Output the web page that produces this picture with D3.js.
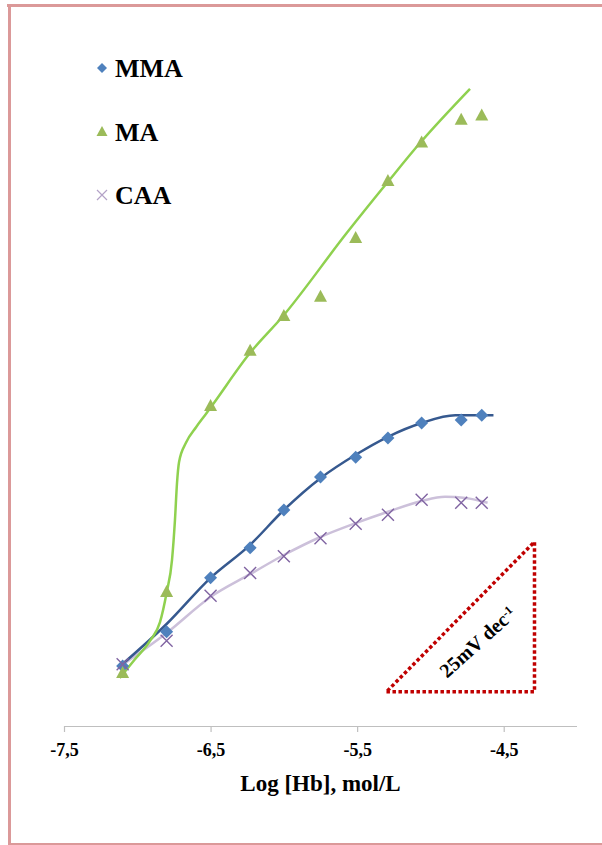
<!DOCTYPE html>
<html>
<head>
<meta charset="utf-8">
<script src="https://cdn.jsdelivr.net/npm/d3@7"></script>
<style>
  html, body { margin: 0; padding: 0; background: #fff; }
  svg { display: block; }
  text { font-family: "Liberation Serif", "Times New Roman", serif; font-weight: bold; }
</style>
</head>
<body>
<svg id="chart" width="602" height="845"></svg>
<script>
// ---- data ----
const xTicks = [-7.5, -6.5, -5.5, -4.5];
const xTickLabels = ["-7,5", "-6,5", "-5,5", "-4,5"];
const logHb = [-7.10, -6.80, -6.50, -6.23, -6.00, -5.75, -5.51, -5.29, -5.06, -4.79, -4.65];
const mmaE = [10.0, 15.7, 24.7, 29.7, 36.0, 41.5, 44.8, 48.0, 50.5, 51.0, 51.8];
const maE  = [8.8, 22.3, 53.3, 62.5, 68.3, 71.5, 81.3, 90.8, 97.2, 101.0, 101.7];
const caaE = [10.3, 14.2, 21.7, 25.5, 28.3, 31.3, 33.7, 35.2, 37.7, 37.2, 37.2];

// fitted trend lines
const maFitX  = [-7.12, -7.02, -6.91, -6.845, -6.80, -6.763, -6.743, -6.729, -6.715, -6.668, -6.599, -6.538, -6.49, -6.23, -6.01, -5.57, -5.29, -5.07, -4.73];
const maFitY  = [8.0, 11.0, 14.3, 17.3, 22.2, 27.7, 34.3, 40.5, 44.0, 47.2, 49.8, 51.8, 53.4, 62.2, 68.2, 82.2, 90.7, 97.2, 106.2];
const mmaFitX = [-7.13, -6.80, -6.50, -6.23, -6.00, -5.75, -5.51, -5.29, -5.06, -4.83, -4.57];
const mmaFitY = [9.7, 17.0, 24.7, 30.2, 36.0, 41.3, 45.2, 48.2, 50.5, 51.8, 51.8];
const caaFitX = [-7.13, -6.80, -6.50, -6.23, -6.00, -5.75, -5.51, -5.29, -5.06, -4.90, -4.76, -4.61];
const caaFitY = [9.7, 15.5, 21.5, 25.3, 28.5, 31.5, 33.8, 35.7, 37.5, 38.2, 38.0, 37.2];

// slope triangle (25 mV per decade)
const slopeX = [-5.30, -4.29];
const slopeY = [5.7, 30.7];

const seriesNames = ["MMA", "MA", "CAA"];

// ---- drawing ----
const svg = d3.select("#chart");
const W = 602, H = 845;

// page border
const borderColor = "#DB9999";
svg.append("line").attr("x1", 7).attr("x2", W).attr("y1", 5.5).attr("y2", 5.5)
  .attr("stroke", borderColor).attr("stroke-width", 3);
svg.append("line").attr("x1", 9.5).attr("x2", 9.5).attr("y1", 4).attr("y2", H)
  .attr("stroke", borderColor).attr("stroke-width", 3);
svg.append("line").attr("x1", 8).attr("x2", W).attr("y1", 844).attr("y2", 844)
  .attr("stroke", borderColor).attr("stroke-width", 2);

const x = d3.scaleLinear().domain([-7.5, -4.0]).range([64, 577]);
const y = d3.scaleLinear().domain([0, 110]).range([726, 66]);

// x axis
const axis = d3.axisBottom(x).tickValues(xTicks).tickSize(6)
  .tickFormat((d, i) => xTickLabels[i]);
const gx = svg.append("g").attr("transform", `translate(0,${y(0)})`).call(axis);
gx.select(".domain").attr("stroke", "#BFBFBF").attr("stroke-width", 1.2)
  .attr("d", `M${x(-7.5)},0.5H${x(-4.0)}`);
gx.selectAll(".tick line").attr("stroke", "#BFBFBF").attr("stroke-width", 1.2);
gx.selectAll(".tick text").attr("fill", "#000").attr("dy", "1.15em")
  .style("font-size", "18px").style("font-family", "'Liberation Serif', serif").style("font-weight", "bold");

svg.append("text").attr("x", (x(-7.5) + x(-4.0)) / 2).attr("y", 791)
  .attr("text-anchor", "middle").style("font-size", "23px").text("Log [Hb], mol/L");

// trend lines
const line = d3.line().x(d => x(d[0])).y(d => y(d[1])).curve(d3.curveMonotoneX);
const zip = (a, b) => a.map((v, i) => [v, b[i]]);

svg.append("path").datum(zip(caaFitX, caaFitY)).attr("d", line)
  .attr("fill", "none").attr("stroke", "#CCC0DA").attr("stroke-width", 2.5);
svg.append("path").datum(zip(mmaFitX, mmaFitY)).attr("d", line)
  .attr("fill", "none").attr("stroke", "#36598F").attr("stroke-width", 2.5);
svg.append("path").datum(zip(maFitX, maFitY)).attr("d", line)
  .attr("fill", "none").attr("stroke", "#8FD14F").attr("stroke-width", 2.5);

// markers
function diamondPath(s) {
  return `M0,${-s}L${s},0L0,${s}L${-s},0Z`;
}
function trianglePath(w, h) {
  return `M0,${-h * 0.6}L${w / 2},${h * 0.4}L${-w / 2},${h * 0.4}Z`;
}
function crossPath(s) {
  return `M${-s},${-s}L${s},${s}M${-s},${s}L${s},${-s}`;
}

svg.append("g").selectAll("path").data(zip(logHb, mmaE)).join("path")
  .attr("transform", d => `translate(${x(d[0])},${y(d[1])})`)
  .attr("d", diamondPath(6.5)).attr("fill", "#4F81BD");
svg.append("g").selectAll("path").data(zip(logHb, maE)).join("path")
  .attr("transform", d => `translate(${x(d[0])},${y(d[1])})`)
  .attr("d", trianglePath(13, 12)).attr("fill", "#9BBB59");
svg.append("g").selectAll("path").data(zip(logHb, caaE)).join("path")
  .attr("transform", d => `translate(${x(d[0])},${y(d[1])})`)
  .attr("d", crossPath(6)).attr("fill", "none").attr("stroke", "#8064A2").attr("stroke-width", 1.4);

// legend
const legend = svg.append("g");
const legY = [68, 132, 195];
const legMarkers = [
  g => g.append("path").attr("d", diamondPath(5)).attr("fill", "#4F81BD"),
  g => g.append("path").attr("d", trianglePath(11, 10)).attr("fill", "#9BBB59"),
  g => g.append("path").attr("d", crossPath(5)).attr("fill", "none").attr("stroke", "#B3A2C7").attr("stroke-width", 1.2)
];
seriesNames.forEach((name, i) => {
  const g = legend.append("g").attr("transform", `translate(102,${legY[i]})`);
  legMarkers[i](g);
  g.append("text").attr("x", 13).attr("y", 9).style("font-size", "26px").text(name);
});

// slope triangle
const tx0 = x(slopeX[0]), tx1 = x(slopeX[1]), ty0 = y(slopeY[0]), ty1 = y(slopeY[1]);
svg.append("path")
  .attr("d", `M${tx0},${ty0}L${tx1},${ty0}L${tx1},${ty1}Z`)
  .attr("fill", "none").attr("stroke", "#C00000").attr("stroke-width", 3.5)
  .attr("stroke-dasharray", "3.5,2.5");

const ang = -42;
svg.append("text")
  .attr("transform", `translate(${tx1 - 57},${ty0 - 50}) rotate(${ang})`)
  .attr("text-anchor", "middle").attr("dy", "0.35em")
  .style("font-size", "20px")
  .call(t => {
    t.append("tspan").text("25mV dec");
    t.append("tspan").attr("dy", "-0.5em").style("font-size", "12px").text("-1");
  });
</script>
</body>
</html>
